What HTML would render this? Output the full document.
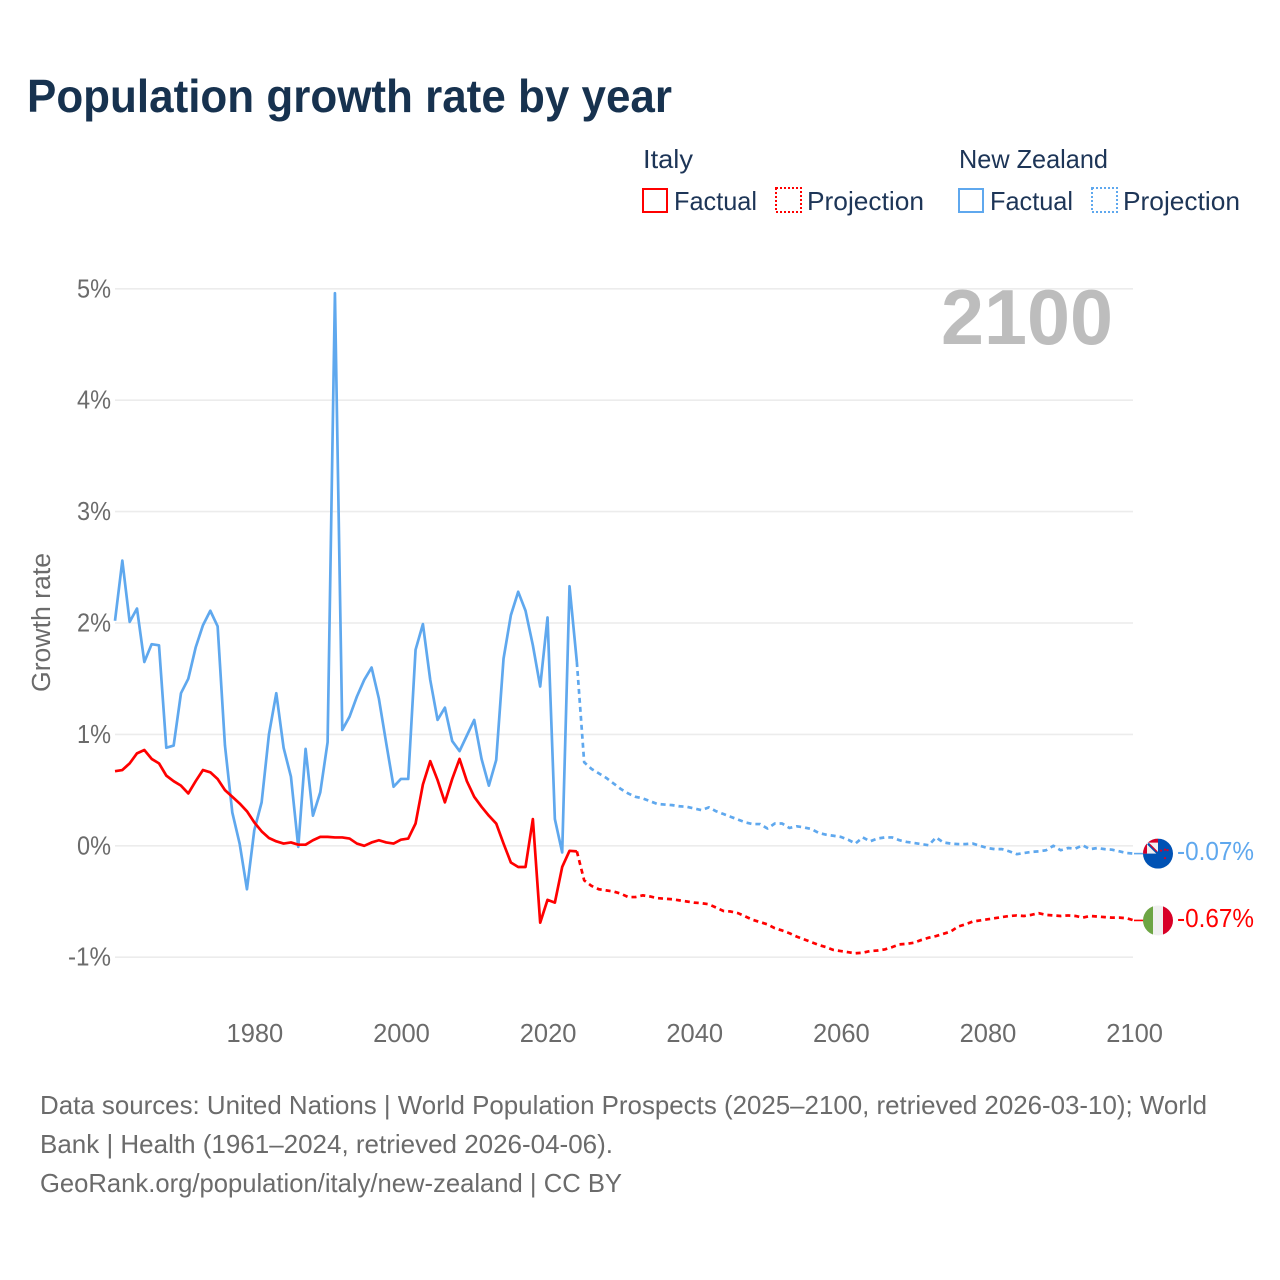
<!DOCTYPE html>
<html lang="en">
<head>
<meta charset="utf-8">
<title>Population growth rate by year</title>
<style>
html,body{margin:0;padding:0;background:#fff;width:1280px;height:1280px;overflow:hidden}
svg{display:block;font-family:"Liberation Sans",sans-serif}
.leg{font-size:26px;fill:#1d3557}
.foot{font-size:26px;fill:#6b6b6b}
.tick{font-size:25.5px;fill:#6b6b6b}
</style>
</head>
<body>
<svg id="chart" xmlns="http://www.w3.org/2000/svg" width="1280" height="1280" viewBox="0 0 1280 1280">
  <defs>
    <clipPath id="clip-nz"><circle cx="0" cy="0" r="15"/></clipPath>
    <clipPath id="clip-it"><circle cx="0" cy="0" r="15"/></clipPath>
  </defs>
  <rect width="1280" height="1280" fill="#fff"/>
  <text x="27" y="112" font-size="46" font-weight="700" fill="#17324f" textLength="645" lengthAdjust="spacingAndGlyphs">Population growth rate by year</text>

  <g>
    <text class="leg" x="643" y="168" textLength="50" lengthAdjust="spacingAndGlyphs">Italy</text>
    <text class="leg" x="959" y="168" textLength="149" lengthAdjust="spacingAndGlyphs">New Zealand</text>
    <rect x="643" y="189" width="24" height="23" fill="none" stroke="#ff0000" stroke-width="2"/>
    <text class="leg" x="674" y="210" textLength="83" lengthAdjust="spacingAndGlyphs">Factual</text>
    <rect x="776" y="188" width="25" height="24" fill="none" stroke="#ff0000" stroke-width="2" stroke-dasharray="2 2"/>
    <text class="leg" x="807" y="210" textLength="117" lengthAdjust="spacingAndGlyphs">Projection</text>
    <rect x="959" y="189" width="24" height="23" fill="none" stroke="#5fa8ee" stroke-width="2"/>
    <text class="leg" x="990" y="210" textLength="83" lengthAdjust="spacingAndGlyphs">Factual</text>
    <rect x="1092" y="188" width="25" height="24" fill="none" stroke="#5fa8ee" stroke-width="2" stroke-dasharray="2 2"/>
    <text class="leg" x="1123" y="210" textLength="117" lengthAdjust="spacingAndGlyphs">Projection</text>
  </g>

  <g id="grid"></g>
  <g id="yticks"></g>
  <g id="xticks"></g>
  <text class="tick" transform="translate(50,692) rotate(-90)" x="0" y="0" textLength="139" lengthAdjust="spacingAndGlyphs">Growth rate</text>
  <text x="1113" y="344" text-anchor="end" font-size="78" font-weight="700" fill="#bdbdbd" textLength="172" lengthAdjust="spacingAndGlyphs">2100</text>
  <g id="series"></g>
  <g id="ends"></g>

  <g>
    <text class="foot" x="40" y="1114" textLength="1167" lengthAdjust="spacingAndGlyphs">Data sources: United Nations | World Population Prospects (2025–2100, retrieved 2026-03-10); World</text>
    <text class="foot" x="40" y="1153" textLength="573" lengthAdjust="spacingAndGlyphs">Bank | Health (1961–2024, retrieved 2026-04-06).</text>
    <text class="foot" x="40" y="1192" textLength="582" lengthAdjust="spacingAndGlyphs">GeoRank.org/population/italy/new-zealand | CC BY</text>
  </g>
</svg>
<script>
var xTickLabels = [1980, 2000, 2020, 2040, 2060, 2080, 2100];
var yTickLabels = [-1, 0, 1, 2, 3, 4, 5];
var factualStartYear = 1961;
var projectionStartYear = 2024;

var nzFactual = [2.02,2.56,2.01,2.13,1.65,1.81,1.80,0.88,0.90,1.37,1.50,1.78,1.98,2.11,1.97,0.90,0.30,0.02,-0.39,0.14,0.39,1.00,1.37,0.88,0.62,-0.01,0.87,0.27,0.48,0.93,4.96,1.04,1.16,1.34,1.49,1.60,1.32,0.92,0.53,0.60,0.60,1.76,1.99,1.49,1.13,1.24,0.94,0.85,0.99,1.13,0.78,0.54,0.77,1.68,2.07,2.28,2.11,1.80,1.43,2.05,0.24,-0.06,2.33,1.65];
var italyFactual = [0.67,0.68,0.74,0.83,0.86,0.78,0.74,0.63,0.58,0.54,0.47,0.58,0.68,0.66,0.60,0.50,0.44,0.38,0.31,0.21,0.13,0.07,0.04,0.02,0.03,0.01,0.01,0.05,0.08,0.08,0.075,0.075,0.065,0.02,0.00,0.03,0.05,0.03,0.02,0.055,0.065,0.20,0.55,0.76,0.59,0.39,0.60,0.78,0.58,0.44,0.35,0.27,0.20,0.02,-0.15,-0.19,-0.19,0.24,-0.69,-0.485,-0.51,-0.19,-0.045,-0.05];
var nzProjection = [1.65,0.75,0.69,0.65,0.61,0.56,0.51,0.47,0.44,0.425,0.40,0.375,0.37,0.365,0.355,0.35,0.335,0.32,0.345,0.31,0.285,0.26,0.235,0.21,0.195,0.195,0.155,0.20,0.20,0.16,0.175,0.165,0.15,0.115,0.10,0.09,0.08,0.055,0.02,0.075,0.04,0.065,0.075,0.075,0.05,0.035,0.025,0.015,0.005,0.075,0.03,0.02,0.015,0.015,0.02,0.00,-0.02,-0.03,-0.03,-0.05,-0.075,-0.065,-0.055,-0.05,-0.04,0.00,-0.04,-0.02,-0.025,0.005,-0.03,-0.02,-0.03,-0.035,-0.05,-0.065,-0.07];
var italyProjection = [-0.05,-0.31,-0.36,-0.39,-0.40,-0.41,-0.43,-0.46,-0.46,-0.445,-0.455,-0.47,-0.475,-0.48,-0.49,-0.50,-0.51,-0.515,-0.525,-0.555,-0.585,-0.59,-0.605,-0.635,-0.665,-0.685,-0.705,-0.74,-0.76,-0.785,-0.815,-0.84,-0.865,-0.89,-0.91,-0.935,-0.945,-0.955,-0.965,-0.96,-0.945,-0.94,-0.93,-0.91,-0.885,-0.88,-0.87,-0.845,-0.825,-0.81,-0.79,-0.77,-0.725,-0.705,-0.68,-0.67,-0.66,-0.65,-0.64,-0.63,-0.625,-0.63,-0.62,-0.605,-0.62,-0.625,-0.63,-0.625,-0.63,-0.645,-0.63,-0.635,-0.64,-0.645,-0.645,-0.65,-0.67];

var NS = 'http://www.w3.org/2000/svg';
var RED = '#ff0000';
var BLUE = '#5fa8ee';
var PLOT_LEFT = 115;
var PLOT_RIGHT = 1134;

function xScale(year) { return PLOT_RIGHT - (2100 - year) * (PLOT_RIGHT - PLOT_LEFT) / 139; }
function yScale(pct) { return 845.8 - pct * 111.4; }
function make(tag, parent) {
  var el = document.createElementNS(NS, tag);
  parent.appendChild(el);
  return el;
}
function pointsFor(values, startYear) {
  return values.map(function (v, i) {
    return xScale(startYear + i).toFixed(2) + ',' + yScale(v).toFixed(2);
  }).join(' ');
}

var gridGroup = document.getElementById('grid');
var yGroup = document.getElementById('yticks');
var xGroup = document.getElementById('xticks');
var seriesGroup = document.getElementById('series');
var endsGroup = document.getElementById('ends');

yTickLabels.forEach(function (t) {
  var line = make('line', gridGroup);
  
  
  line.setAttribute('x1', PLOT_LEFT);
  line.setAttribute('x2', PLOT_RIGHT - 1);
  line.setAttribute('y1', yScale(t));
  line.setAttribute('y2', yScale(t));
  line.setAttribute('stroke', '#ececec');
  line.setAttribute('stroke-width', '1.6');
  var label = make('text', yGroup);
  
  
  label.setAttribute('class', 'tick');
  label.setAttribute('x', 111);
  label.setAttribute('y', yScale(t) + 8.5);
  label.setAttribute('text-anchor', 'end');
  label.setAttribute('textLength', t < 0 ? 43 : 34);
  label.setAttribute('lengthAdjust', 'spacingAndGlyphs');
  label.textContent = t + '%';
});

xTickLabels.forEach(function (t) {
  var label = make('text', xGroup);
  
  
  label.setAttribute('class', 'tick');
  label.setAttribute('x', xScale(t) + 0.6);
  label.setAttribute('y', 1042);
  label.setAttribute('text-anchor', 'middle');
  label.textContent = t;
});

function drawLine(values, startYear, color, dashed, name) {
  var line = make('polyline', seriesGroup);
  
  
  line.setAttribute('points', pointsFor(values, startYear));
  line.setAttribute('fill', 'none');
  line.setAttribute('stroke', color);
  line.setAttribute('stroke-width', '2.7');
  line.setAttribute('stroke-linejoin', 'round');
  if (dashed) {
    line.setAttribute('stroke-dasharray', '5 4');
  }
}

drawLine(nzFactual, factualStartYear, BLUE, false, 'line-new-zealand-factual');
drawLine(italyFactual, factualStartYear, RED, false, 'line-italy-factual');
drawLine(nzProjection, projectionStartYear, BLUE, true, 'line-new-zealand-projection');
drawLine(italyProjection, projectionStartYear, RED, true, 'line-italy-projection');

function part(tag, parent, attrs) {
  var el = make(tag, parent);
  Object.keys(attrs).forEach(function (k) { el.setAttribute(k, attrs[k]); });
  return el;
}

function drawEnd(values, color, flagKind) {
  var last = values[values.length - 1];
  var cy = yScale(last);
  var connector = make('line', endsGroup);
  
  
  connector.setAttribute('x1', xScale(2100));
  connector.setAttribute('x2', 1144);
  connector.setAttribute('y1', cy);
  connector.setAttribute('y2', cy);
  connector.setAttribute('stroke', color);
  connector.setAttribute('stroke-width', '1.6');

  var flag = make('g', endsGroup);
  
  
  flag.setAttribute('transform', 'translate(1158,' + cy.toFixed(2) + ')');
  var inner = make('g', flag);
  inner.setAttribute('clip-path', flagKind === 'italy' ? 'url(#clip-it)' : 'url(#clip-nz)');
  if (flagKind === 'italy') {
    part('rect', inner, { x: -15, y: -15, width: 10, height: 30, fill: '#6da544' });
    part('rect', inner, { x: -5, y: -15, width: 10, height: 30, fill: '#f0f0f0' });
    part('rect', inner, { x: 5, y: -15, width: 10, height: 30, fill: '#d80027' });
  } else {
    part('rect', inner, { x: -15, y: -15, width: 30, height: 30, fill: '#0052b4' });
    part('rect', inner, { x: -15, y: -15, width: 15, height: 15, fill: '#f0f0f0' });
    part('path', inner, { d: 'M-15 -15H0V-11H-11V0H-15Z', fill: '#d80027' });
    part('path', inner, { d: 'M-10 -10L0 0', stroke: '#0052b4', 'stroke-width': 2.4, fill: 'none' });
    part('path', inner, { d: 'M-8 -9L-1 -2', stroke: '#d80027', 'stroke-width': 1.2, fill: 'none' });
    [[3, -3], [7, -4], [9.5, -3.5], [7, 4.5]].forEach(function (s) {
      part('circle', inner, { cx: s[0], cy: s[1], r: 1.1, fill: '#d80027' });
    });
  }

  var label = make('text', endsGroup);
  
  
  label.setAttribute('x', 1177);
  label.setAttribute('y', cy + 6.5);
  label.setAttribute('font-size', '26');
  label.setAttribute('fill', color);
  label.setAttribute('textLength', '77');
  label.setAttribute('lengthAdjust', 'spacingAndGlyphs');
  label.textContent = last.toFixed(2) + '%';
}

drawEnd(nzProjection, BLUE, 'new-zealand');
drawEnd(italyProjection, RED, 'italy');
</script>
</body>
</html>
